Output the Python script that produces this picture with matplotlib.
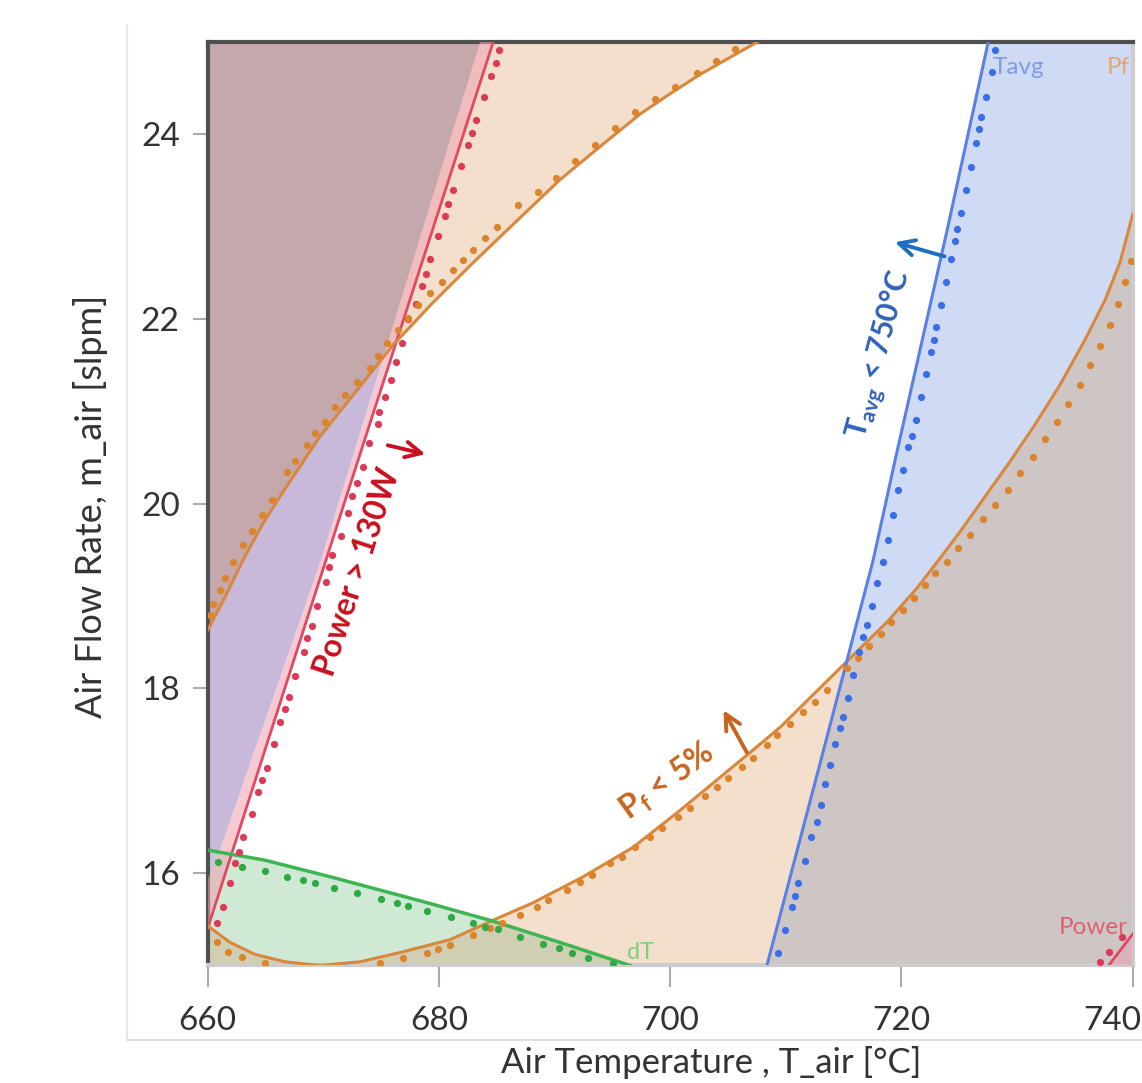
import numpy as np
import matplotlib.pyplot as plt
from matplotlib.patches import Polygon
from matplotlib.lines import Line2D
from matplotlib.transforms import ScaledTranslation

# contour lines (Air Temperature [C], Air Flow Rate [slpm])
power_x = [660.0, 672.75, 684.7]
power_y = [15.40, 20.37, 25.0]
power_edge_x = [683.56, 669.81, 661.07, 660.0]
power_edge_y = [25.0, 19.39, 16.25, 15.93]

pf_upper_x = [660.0, 661.51, 663.06, 664.71, 666.26, 669.72, 673.62, 676.04, 679.50, 682.96, 685.29,
              690.48, 693.96, 697.40, 700.0, 702.60, 707.53]
pf_upper_y = [18.63, 18.99, 19.39, 19.77, 20.08, 20.73, 21.34, 21.72, 22.18, 22.61, 22.89,
              23.51, 23.87, 24.22, 24.44, 24.65, 25.0]
pf_lower_x = [660.0, 661.94, 664.10, 666.70, 669.72, 673.18, 676.64, 680.97, 684.69, 688.15, 692.47,
              696.80, 700.86, 706.66, 709.52, 715.83, 718.77, 721.37, 723.10, 725.09, 727.25, 729.41,
              731.57, 733.73, 735.90, 737.63, 738.92, 740.0]
pf_lower_y = [15.43, 15.25, 15.12, 15.04, 15.0, 15.04, 15.14, 15.28, 15.49, 15.68, 15.96,
              16.28, 16.68, 17.28, 17.58, 18.36, 18.72, 19.09, 19.37, 19.70, 20.08, 20.46,
              20.86, 21.29, 21.78, 22.21, 22.62, 23.13]

tavg_x = [708.37, 713.41, 717.56, 719.47, 723.97, 727.51]
tavg_y = [15.0, 17.40, 19.39, 20.48, 22.97, 25.0]

dt_x = [660.0, 664.97, 670.93, 678.98, 684.69, 690.48, 696.54]
dt_y = [16.25, 16.14, 15.95, 15.68, 15.48, 15.25, 15.0]

power_hi_x = [737.93, 740.0]
power_hi_y = [15.0, 15.34]

# dotted companions of each contour
power_dots_x = [685.2, 684.9, 684.5, 683.9, 683.2, 682.9, 682.5, 681.9, 681.2, 680.8, 680.5, 679.9, 679.2,
                678.9, 678.5, 678.0, 677.3, 676.8, 676.3, 675.9, 675.3, 674.8, 674.7, 674.0, 673.4, 672.9,
                672.5, 672.1, 671.5, 670.8, 670.5, 670.2, 669.5, 669.0, 668.6, 668.3, 667.6, 667.0, 666.7,
                666.3, 665.7, 665.1, 664.7, 664.4, 663.8, 663.1, 662.7, 662.4, 661.9, 661.3, 660.8]
power_dots_y = [24.91, 24.77, 24.63, 24.41, 24.16, 24.01, 23.88, 23.66, 23.40, 23.25, 23.12, 22.90, 22.65,
                22.49, 22.36, 22.16, 22.00, 21.74, 21.54, 21.34, 21.16, 20.99, 20.86, 20.66, 20.40, 20.22,
                20.08, 19.90, 19.65, 19.45, 19.32, 19.15, 18.89, 18.68, 18.55, 18.40, 18.14, 17.91, 17.78,
                17.64, 17.40, 17.14, 17.01, 16.88, 16.64, 16.39, 16.23, 16.11, 15.89, 15.63, 15.46]

pf_up_dots_x = [660.21, 660.47, 661.07, 661.51, 662.20, 663.06, 663.84, 664.71, 665.57, 666.87, 667.56,
                668.60, 669.29, 670.16, 671.03, 671.89, 672.93, 674.05, 674.74, 675.52, 676.47, 677.34,
                678.20, 679.24, 680.28, 681.23, 682.09, 682.96, 684.00, 685.03, 686.85, 688.58, 690.14,
                691.78, 693.51, 695.24, 696.97, 698.70, 700.43, 702.34, 703.98, 705.62]
pf_up_dots_y = [18.80, 18.91, 19.07, 19.20, 19.37, 19.55, 19.71, 19.88, 20.04, 20.34, 20.46,
                20.64, 20.77, 20.89, 21.05, 21.18, 21.32, 21.47, 21.60, 21.74, 21.88, 22.01,
                22.15, 22.28, 22.40, 22.53, 22.64, 22.75, 22.88, 23.00, 23.24, 23.38, 23.53,
                23.71, 23.89, 24.07, 24.24, 24.38, 24.51, 24.66, 24.79, 24.92]

pf_lo_dots_x = [660.81, 661.77, 662.98, 664.97, 674.91, 676.90, 678.98, 679.93, 680.97, 682.96, 684.43,
                685.47, 687.02, 688.50, 689.45, 691.09, 692.21, 693.25, 694.81, 695.85, 696.97, 698.27,
                699.31, 700.69, 701.73, 703.03, 704.07, 705.02, 706.23, 707.18, 708.39, 709.26, 710.38,
                711.50, 712.54, 713.58, 715.31, 716.26, 717.21, 718.25, 719.12, 720.16, 721.11, 722.06,
                722.92, 723.96, 724.91, 725.95, 727.08, 728.11, 729.24, 730.28, 731.40, 732.44, 733.48,
                734.43, 735.47, 736.33, 737.20, 738.06, 738.75, 739.36, 739.88]
pf_lo_dots_y = [15.25, 15.15, 15.09, 15.03, 15.03, 15.08, 15.14, 15.18, 15.22, 15.33, 15.41,
                15.46, 15.55, 15.63, 15.71, 15.82, 15.90, 15.98, 16.11, 16.18, 16.28, 16.39,
                16.49, 16.61, 16.71, 16.83, 16.93, 17.03, 17.15, 17.25, 17.39, 17.50, 17.61,
                17.74, 17.85, 17.98, 18.22, 18.33, 18.46, 18.59, 18.72, 18.85, 18.98, 19.12,
                19.25, 19.37, 19.52, 19.66, 19.83, 19.99, 20.15, 20.33, 20.51, 20.70, 20.89,
                21.08, 21.29, 21.50, 21.71, 21.94, 22.16, 22.40, 22.63]

tavg_dots_x = [728.11, 727.85, 727.33, 726.90, 726.73, 726.47, 726.04, 725.61, 725.17, 724.83, 724.66,
               724.31, 723.88, 723.44, 723.01, 722.84, 722.58, 722.15, 721.71, 721.28, 720.93, 720.59,
               720.16, 719.73, 719.29, 718.86, 718.43, 717.91, 717.47, 717.04, 716.70, 716.35, 715.83,
               715.40, 714.97, 714.71, 714.27, 713.84, 713.41, 713.07, 712.72, 712.20, 711.68, 711.08,
               710.82, 710.56, 709.95, 709.35]
tavg_dots_y = [24.91, 24.67, 24.41, 24.19, 24.06, 23.91, 23.65, 23.40, 23.15, 22.97, 22.84,
               22.65, 22.40, 22.15, 21.91, 21.77, 21.64, 21.40, 21.16, 20.91, 20.73, 20.61,
               20.37, 20.15, 19.88, 19.61, 19.37, 19.14, 18.89, 18.69, 18.56, 18.39, 18.15,
               17.90, 17.69, 17.57, 17.40, 17.17, 16.96, 16.74, 16.55, 16.39, 16.13, 15.89,
               15.75, 15.63, 15.38, 15.14]

dt_dots_x = [660.90, 662.98, 664.97, 666.87, 668.25, 669.29, 670.93, 672.92, 675.00, 676.38, 677.34,
             678.98, 681.06, 682.96, 684.00, 685.12, 687.02, 689.01, 690.39, 691.52, 692.90, 695.06]
dt_dots_y = [16.12, 16.07, 16.02, 15.96, 15.93, 15.89, 15.84, 15.78, 15.72, 15.68, 15.64,
             15.59, 15.53, 15.46, 15.42, 15.39, 15.31, 15.23, 15.19, 15.14, 15.08, 15.03]

power_hi_dots_x = [739.11, 737.99, 737.20]
power_hi_dots_y = [15.31, 15.15, 15.04]

xticks = [660, 680, 700, 720, 740]
yticks = [16, 18, 20, 22, 24]

plt.rcParams['font.family'] = ['Lato', 'DejaVu Sans']

fig = plt.figure(figsize=(11.42, 10.83), dpi=100)
ax = fig.add_axes([0.1818, 0.1085, 0.81, 0.8527])
ax.set_xlim(660, 740)
ax.set_ylim(15, 25)


def shape(xs, ys):
    return Polygon(np.column_stack([xs, ys]), closed=True, transform=ax.transData)


def region(xs, ys, color, z, clip=None, alpha=1.0):
    p = Polygon(np.column_stack([xs, ys]), closed=True, facecolor=color, edgecolor='none',
                zorder=z, alpha=alpha)
    ax.add_patch(p)
    if clip is not None:
        p.set_clip_path(clip)
    return p


pf_hi = (pf_upper_x + [660], pf_upper_y + [25])
pf_lo = (pf_lower_x + [740, 660], pf_lower_y + [15, 15])
pow_reg = (power_edge_x + [660], power_edge_y + [25])
strip = (power_x + power_edge_x, power_y + power_edge_y)
tavg_reg = (tavg_x + [740, 740], tavg_y + [25, 15])
dt_reg = (dt_x + [660], dt_y + [15])
pow_hi_reg = (power_hi_x + [740], power_hi_y + [15])

region(*pf_hi, '#f3dfcb', 1)
region(*pf_lo, '#f3dfcb', 1)
region(*pow_reg, '#c8b9da', 1)
region(*pf_hi, '#c5a8ab', 2, clip=shape(*pow_reg))
region(*tavg_reg, '#cfdbf5', 1)
region(*pf_lo, '#cec5c5', 2, clip=shape(*tavg_reg))
region(*dt_reg, '#d0e9d4', 1)
region(*pf_lo, '#d1cfb3', 2, clip=shape(*dt_reg))
region(*dt_reg, '#c8c6d0', 2, clip=shape(*pow_reg))
region(*strip, '#f0a0b0', 3, alpha=0.55)
region(*pow_hi_reg, '#e8a0b0', 3, alpha=0.5)

# contour lines
ax.plot(power_x, power_y, color='#e34862', lw=2, zorder=5)
ax.plot(pf_upper_x, pf_upper_y, color='#d8873c', lw=2.2, zorder=5)
ax.plot(pf_lower_x, pf_lower_y, color='#d8873c', lw=2.2, zorder=5)
ax.plot(tavg_x, tavg_y, color='#5b80e3', lw=2.2, zorder=5)
ax.plot(dt_x, dt_y, color='#3db553', lw=2.5, zorder=5)
ax.plot(power_hi_x, power_hi_y, color='#e34862', lw=2, zorder=5)

ms = 5.2
ax.plot(power_dots_x, power_dots_y, 'o', ms=ms, color='#dc3a58', mec='none', zorder=6)
ax.plot(pf_up_dots_x, pf_up_dots_y, 'o', ms=ms, color='#dc842c', mec='none', zorder=6)
ax.plot(pf_lo_dots_x, pf_lo_dots_y, 'o', ms=ms, color='#dc842c', mec='none', zorder=6)
ax.plot(tavg_dots_x, tavg_dots_y, 'o', ms=ms, color='#3a6ee8', mec='none', zorder=6)
ax.plot(dt_dots_x, dt_dots_y, 'o', ms=ms, color='#2eaa45', mec='none', zorder=6)
ax.plot(power_hi_dots_x, power_hi_dots_y, 'o', ms=ms, color='#dc3a58', mec='none', zorder=6)

# contour names
ax.text(727.86, 24.72, 'Tavg', color='#7f9be6', fontsize=17.5, ha='left', va='center', zorder=7)
ax.text(739.8, 24.72, 'Pf', color='#e3a677', fontsize=17.5, ha='right', va='center', zorder=7)
ax.text(696.28, 15.14, 'dT', color='#7ccf7c', fontsize=17, ha='left', va='center', zorder=7)
ax.text(739.62, 15.41, 'Power', color='#e06070', fontsize=17.5, ha='right', va='center', zorder=7)

# constraint annotations
ax.text(672.92, 19.26, 'Power > 130W', rotation=72, rotation_mode='anchor', ha='center', va='center',
        color='#c8101e', fontsize=23, fontweight='bold', zorder=8)
ax.annotate('', xy=(679.07, 20.53), xytext=(675.35, 20.64),
            arrowprops=dict(arrowstyle='->', color='#c8101e', lw=2.8, mutation_scale=28), zorder=8)

ax.text(699.74, 16.99, r'P$_\mathregular{f}$ < 5%', rotation=36, rotation_mode='anchor', ha='center',
        va='center', color='#c8641e', fontsize=23, fontweight='bold', zorder=8)
ax.annotate('', xy=(704.5, 17.79), xytext=(706.75, 17.28),
            arrowprops=dict(arrowstyle='->', color='#c8641e', lw=2.8, mutation_scale=28), zorder=8)

ax.text(718.17, 21.61, r'T$_\mathregular{avg}$ < 750°C', rotation=75, rotation_mode='anchor', ha='center',
        va='center', color='#3062b8', fontsize=22, fontweight='bold', zorder=8)
ax.annotate('', xy=(719.2, 22.84), xytext=(723.96, 22.67),
            arrowprops=dict(arrowstyle='->', color='#1f6fc0', lw=2.8, mutation_scale=28), zorder=8)

ax.set_xticks(xticks)
ax.set_yticks(yticks)
ax.tick_params(axis='x', length=16, width=1.5, color='#aaaaaa', labelcolor='#333333', labelsize=24, pad=13)
ax.tick_params(axis='y', length=11, width=1.5, color='#aaaaaa', labelcolor='#333333', labelsize=24, pad=9)
# the last x label sits on the figure edge; nudge it inwards
last = ax.get_xticklabels()[-1]
last.set_transform(last.get_transform() + ScaledTranslation(-0.2, 0, fig.dpi_scale_trans))

for side in ['left', 'top']:
    ax.spines[side].set_color('#505050')
    ax.spines[side].set_linewidth(3)
for side in ['bottom', 'right']:
    ax.spines[side].set_color('#cccccc')
    ax.spines[side].set_linewidth(3)

fig.text(0.079, 0.532, 'Air Flow Rate, m_air [slpm]', rotation=90, ha='center', va='center',
         fontsize=26, color='#333333')
fig.text(0.6226, 0.004, 'Air Temperature , T_air [°C]', ha='center', va='bottom', fontsize=25, color='#333333')

# panel frame lines
fig.add_artist(Line2D([0.111, 0.111], [0.0397, 0.977], transform=fig.transFigure, color='#e6e6e6', lw=1.5))
fig.add_artist(Line2D([0.111, 1.0], [0.0397, 0.0397], transform=fig.transFigure, color='#e0e0e0', lw=1.5))

fig.savefig('out.png', dpi=100)
